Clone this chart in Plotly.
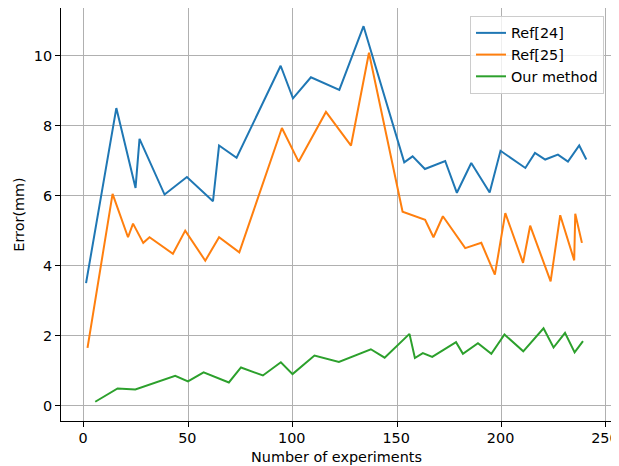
import plotly.graph_objects as go

# Ref[24]
ref24_x = [1, 15.5, 24.7, 26.6, 38.6, 49.3, 61.8, 64.7, 73.1, 94.2, 100.1, 108.7, 122.3, 133.9,
           153.4, 157.4, 163.3, 173.0, 178.6, 185.5, 194.3, 199.5, 211.4, 216.0, 220.9, 227.0,
           231.8, 237.2, 240.6]
ref24_y = [3.51, 8.51, 6.23, 7.63, 6.04, 6.54, 5.85, 7.44, 7.09, 9.72, 8.79, 9.39, 9.03, 10.85,
           6.96, 7.13, 6.77, 7.0, 6.09, 6.94, 6.10, 7.29, 6.8, 7.23, 7.04, 7.18, 6.98, 7.44, 7.04]

# Ref[25]
ref25_x = [1.7, 13.7, 21.1, 23.5, 28.4, 31.4, 42.6, 48.5, 58.1, 64.7, 74.4, 94.8, 102.8, 115.9,
           127.9, 136.5, 152.6, 163.4, 167.4, 171.9, 182.6, 190.3, 196.8, 201.8, 210.3, 213.7,
           223.5, 228.1, 234.8, 235.3, 238.5]
ref25_y = [1.66, 6.06, 4.82, 5.21, 4.66, 4.82, 4.35, 5.01, 4.15, 4.82, 4.39, 7.94, 6.98, 8.4,
           7.44, 10.09, 5.55, 5.32, 4.82, 5.42, 4.51, 4.66, 3.75, 5.51, 4.09, 5.15, 3.56, 5.45,
           4.16, 5.49, 4.66]

# Our method
ours_x = [5.4, 16.1, 24.6, 43.7, 49.8, 57.3, 69.4, 75.2, 85.7, 94.3, 99.9, 110.4, 122.1, 137.4,
          144.0, 155.9, 158.5, 162.3, 166.8, 178.2, 181.5, 188.7, 195.1, 201.4, 210.4, 220.1,
          224.9, 230.4, 235.0, 239.0]
ours_y = [0.12, 0.50, 0.47, 0.86, 0.70, 0.96, 0.67, 1.10, 0.87, 1.25, 0.91, 1.44, 1.26, 1.62,
          1.38, 2.06, 1.37, 1.51, 1.40, 1.82, 1.49, 1.79, 1.49, 2.04, 1.56, 2.22, 1.67, 2.09,
          1.53, 1.85]

x_ticks = [0, 50, 100, 150, 200, 250]
y_ticks = [0, 2, 4, 6, 8, 10]

series = [
    ("Ref[24]", ref24_x, ref24_y, "#1f77b4"),
    ("Ref[25]", ref25_x, ref25_y, "#ff7f0e"),
    ("Our method", ours_x, ours_y, "#2ca02c"),
]

fig = go.Figure()
for name, xs, ys, col in series:
    fig.add_trace(go.Scatter(x=xs, y=ys, mode="lines", name=name,
                             line=dict(color=col, width=2)))

font = dict(family="DejaVu Sans", size=14.4, color="black")
axis_common = dict(
    showgrid=True, gridcolor="#b0b0b0", gridwidth=1,
    showline=True, linecolor="black", linewidth=1, mirror=True,
    ticks="outside", ticklen=5, tickwidth=1, tickcolor="black",
    zeroline=False, tickfont=font, automargin=False,
    ticklabeloverflow="allow",
)
# The page body adds an 8px offset; margins compensate so the plot area
# lands where the reference has it.
fig.update_layout(
    width=619, height=466,
    margin=dict(l=53, r=15, t=0, b=53),
    paper_bgcolor="white", plot_bgcolor="white",
    font=font,
    xaxis=dict(range=[-11.0, 252.9], tickvals=x_ticks, ticklabelstandoff=-1,
               ticklabelshift=-1,
               title=dict(text="Number of experiments", font=font, standoff=6),
               **axis_common),
    yaxis=dict(range=[-0.43, 11.37], tickvals=y_ticks,
               title=dict(text="Error(mm)", font=font, standoff=5),
               **axis_common),
    legend=dict(x=0.9855, y=0.9806, xanchor="right", yanchor="top",
                bgcolor="rgba(255,255,255,0.8)", bordercolor="#cccccc", borderwidth=1,
                font=font, tracegroupgap=0),
    showlegend=True,
)
fig.write_html("out.html")
